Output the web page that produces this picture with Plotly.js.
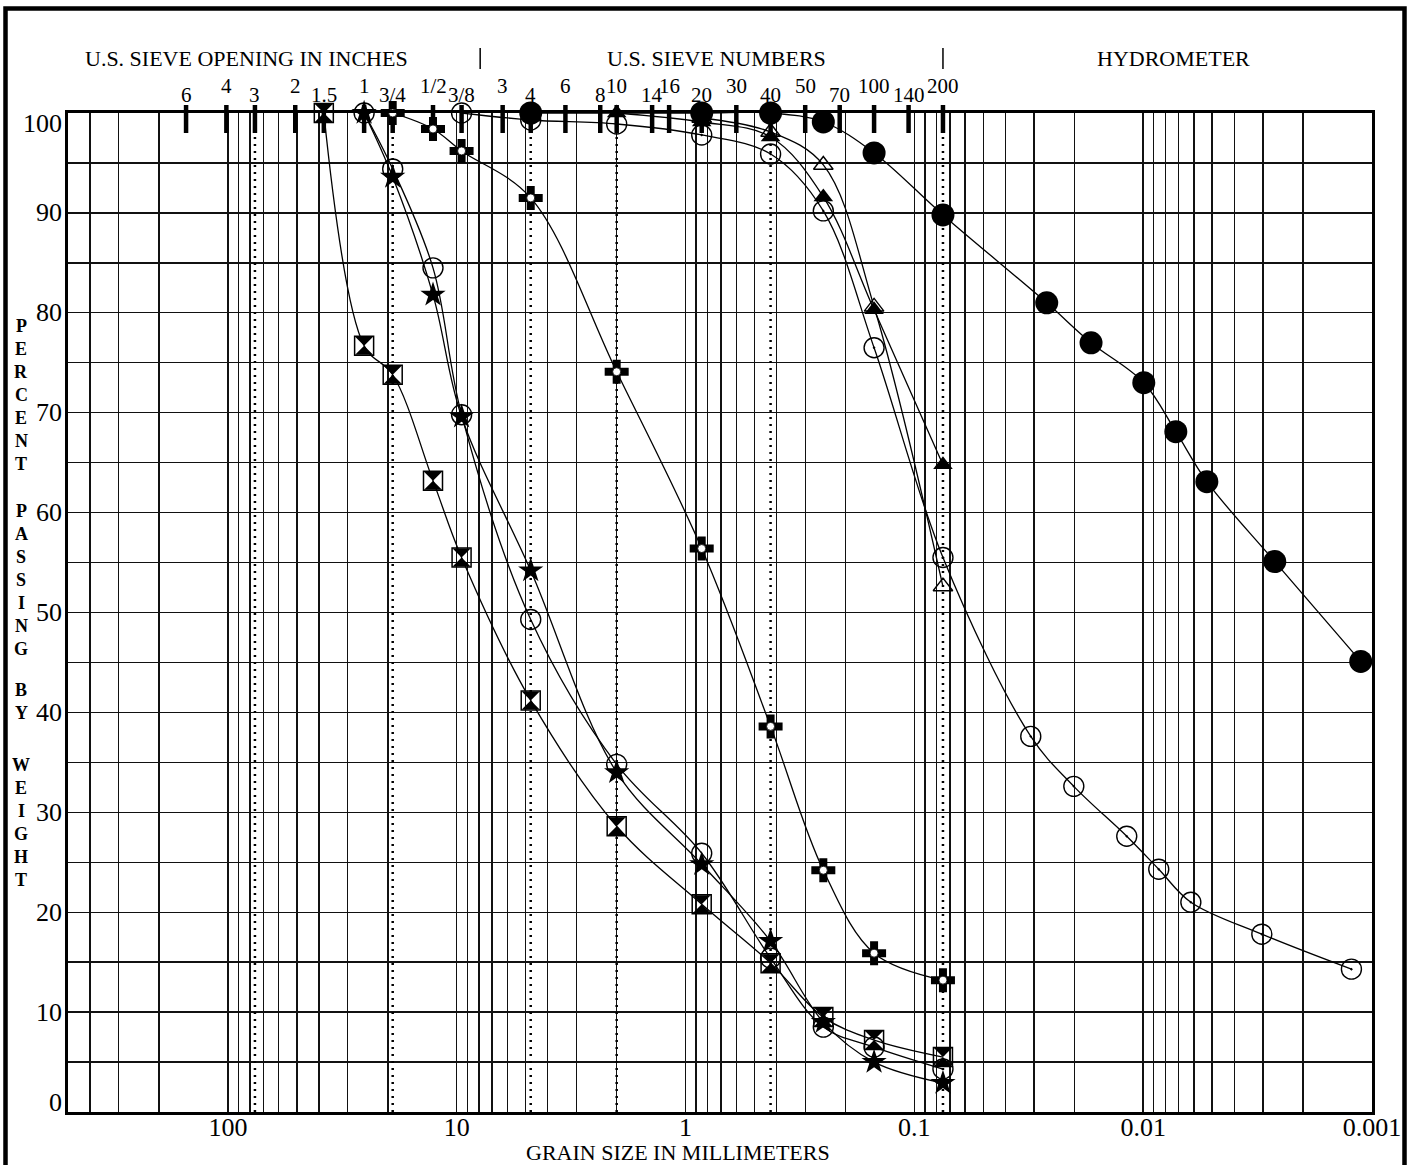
<!DOCTYPE html>
<html><head><meta charset="utf-8">
<script src="https://cdn.plot.ly/plotly-3.0.1.min.js"></script>
<style>body{margin:0;background:#fff}#chart{width:1414px;height:1165px}</style>
</head><body><div id="chart"></div>
<script>
// ---- axis / sieve definitions ----
const sieveInchLabels = ['6','4','3','2','1.5','1','3/4','1/2','3/8'];
const sieveInchMM = [152.4,101.6,76.2,50.8,38.1,25.4,19.05,12.7,9.525];
const sieveNoLabels = ['3','4','6','8','10','14','16','20','30','40','50','70','100','140','200'];
const sieveNoMM = [6.3,4.75,3.35,2.36,2.0,1.4,1.18,0.85,0.6,0.425,0.3,0.212,0.15,0.106,0.075];
const dottedMM = [76.2,19.05,4.75,2.0,0.425,0.075];
const separatorMM = [7.9,0.075];
const xMajorVals = [100,10,1,0.1,0.01,0.001];
const xMajorText = ['100','10','1','0.1','0.01','0.001'];
const yTickVals = [0,10,20,30,40,50,60,70,80,90,100];
const yTitleWords = ['PERCENT','PASSING','BY','WEIGHT'];

// ---- series (grain size mm, percent passing) ----
const hgX = [38.1,25.4,19.05,12.7,9.525,4.75,2.0,0.85,0.425,0.25,0.15,0.075];
const hgY = [100,76.7,73.8,63.2,55.5,41.2,28.6,20.8,14.9,9.5,7.2,5.5];
const ocX = [25.4,19.05,12.7,9.525,4.75,2.0,0.85,0.425,0.25,0.15,0.075];
const ocY = [100,94.4,84.5,69.8,49.3,34.8,25.9,15.4,8.5,6.5,4.3];
const stX = [25.4,19.05,12.7,9.525,4.75,2.0,0.85,0.425,0.25,0.15,0.075];
const stY = [100,93.6,81.8,69.6,54.2,34.0,24.8,17.1,9.0,5.0,2.9];
const crX = [19.05,12.7,9.525,4.75,2.0,0.85,0.425,0.25,0.15,0.075];
const crY = [100,98.4,96.2,91.5,74.1,56.4,38.6,24.2,15.9,13.2];
const ftX = [2.0,0.85,0.425,0.25,0.15,0.075];
const ftY = [100,99.1,97.6,91.6,80.3,64.8];
const otX = [0.85,0.425,0.25,0.15,0.075];
const otY = [99.5,98.1,94.8,80.6,52.6];
const cdX = [9.525,4.75,2.0,0.85,0.425,0.25,0.15,0.075,0.031,0.0201,0.0118,0.00855,0.00619,0.00303,0.00123];
const cdY = [100,99.3,98.9,97.8,95.9,90.2,76.5,55.5,37.6,32.6,27.6,24.3,21.0,17.8,14.3];
const fcX = [4.75,0.85,0.425,0.25,0.15,0.075,0.0264,0.0169,0.00994,0.0072,0.00527,0.00266,0.00112];
const fcY = [100,100,100,99.1,96.0,89.8,81.0,77.0,73.0,68.1,63.1,55.1,45.1];

// ---- layout geometry (pixels) ----
const W = 1414, H = 1165, ML = 68, MR = 42, MT = 113, MB = 53;
const PW = W - ML - MR, PH = H - MT - MB;
const X_MAX = 500, X_MIN = 0.001;
const px2x = p => (p - ML) / PW;
const py2y = p => (H - MB - p) / PH;
const mm2paper = v => (Math.log10(X_MAX) - Math.log10(v)) / (Math.log10(X_MAX) - Math.log10(X_MIN));
const FONT = 'Liberation Serif, Times New Roman, serif';

// grid positions (every digit of every decade)
const gridVals = [];
for (let k = -3; k <= 2; k++) for (let m = 1; m <= 9; m++) {
  const v = m * Math.pow(10, k);
  if (v <= X_MAX) gridVals.push(+v.toPrecision(3));
}
const gridText = gridVals.map(v => {
  const i = xMajorVals.findIndex(m => Math.abs(m - v) / m < 1e-6);
  return i >= 0 ? xMajorText[i] : '';
});

const lineStyle = {color: 'black', width: 1.3, shape: 'spline', smoothing: 1};
const traces = [];

// dotted sieve lines
const dx = [], dy = [];
dottedMM.forEach(v => { dx.push(v, v, null); dy.push(0, 100, null); });
traces.push({x: dx, y: dy, mode: 'lines', line: {color: 'black', width: 2.5, dash: '2px,5px'}, hoverinfo: 'skip'});

// top sieve tick marks (drawn beneath the data markers)
const allSieveMM = sieveInchMM.concat(sieveNoMM);
traces.push({x: allSieveMM, y: allSieveMM.map(() => 99.4), mode: 'markers', cliponaxis: false,
  marker: {symbol: 'line-ns', size: 20, color: 'black', line: {width: 4.5, color: 'black'}}, hoverinfo: 'skip'});

// series
const mk = (o) => Object.assign({cliponaxis: false}, o);
traces.push(mk({x: hgX, y: hgY, mode: 'lines+markers', line: lineStyle, marker: {symbol: 'hourglass', size: 18, color: 'black'}}));
traces.push(mk({x: hgX, y: hgY, mode: 'markers', marker: {symbol: 'square-open', size: 19, color: 'black', line: {width: 1.5}}}));
traces.push(mk({x: ocX, y: ocY, mode: 'lines+markers', line: lineStyle, marker: {symbol: 'circle-open', size: 20, color: 'black', line: {width: 1.4}}}));
traces.push(mk({x: stX, y: stY, mode: 'lines+markers', line: lineStyle, marker: {symbol: 'star', size: 19, color: 'black'}}));
traces.push(mk({x: crX, y: crY, mode: 'lines+markers', line: lineStyle, marker: {symbol: 'cross', size: 20, color: 'black'}}));
traces.push(mk({x: crX, y: crY, mode: 'markers', marker: {symbol: 'circle', size: 8, color: 'white', line: {width: 0.8, color: 'black'}}}));
traces.push(mk({x: otX, y: otY, mode: 'lines+markers', line: lineStyle, marker: {symbol: 'triangle-up-open', size: 17, color: 'black', line: {width: 1.4}}}));
traces.push(mk({x: ftX, y: ftY, mode: 'lines+markers', line: lineStyle, marker: {symbol: 'triangle-up', size: 17, color: 'black'}}));
traces.push(mk({x: cdX, y: cdY, mode: 'lines+markers', line: lineStyle, marker: {symbol: 'circle-open-dot', size: 20, color: 'black', line: {width: 1.4}}}));
traces.push(mk({x: fcX, y: fcY, mode: 'lines+markers', line: lineStyle, marker: {symbol: 'circle', size: 23, color: 'black'}}));

const annotations = [];
const txt = (o) => annotations.push(Object.assign({showarrow: false, xanchor: 'center', yanchor: 'middle'}, o));
// sieve labels, alternating heights
sieveInchLabels.forEach((t, i) => txt({x: Math.log10(sieveInchMM[i]), xref: 'x', y: py2y(i % 2 ? 86 : 95), yref: 'paper', text: t, font: {family: FONT, size: 21, color: 'black'}}));
sieveNoLabels.forEach((t, i) => txt({x: Math.log10(sieveNoMM[i]), xref: 'x', y: py2y(i % 2 ? 95 : 86), yref: 'paper', text: t, font: {family: FONT, size: 21, color: 'black'}}));
// group titles
[['U.S. SIEVE OPENING IN INCHES', 246], ['U.S. SIEVE NUMBERS', 716], ['HYDROMETER', 1173]].forEach(([t, p]) =>
  txt({x: px2x(p), xref: 'paper', y: py2y(58), yref: 'paper', text: t, font: {family: FONT, size: 22, color: 'black'}}));
// x title
txt({x: px2x(678), xref: 'paper', y: py2y(1152), yref: 'paper', text: 'GRAIN SIZE IN MILLIMETERS', font: {family: FONT, size: 22, color: 'black'}});
// y tick labels
yTickVals.forEach(v => txt({x: 0, xref: 'paper', xanchor: 'right', xshift: -4, y: v, yref: 'y',
  yshift: v === 100 ? -10 : (v === 0 ? 10 : 0), text: String(v), font: {family: FONT, size: 26, color: 'black'}}));
// y title stacked letters
const wordStart = [326, 511, 690, 765];
yTitleWords.forEach((w, wi) => w.split('').forEach((ch, ci) =>
  txt({x: px2x(21), xref: 'paper', y: py2y(wordStart[wi] + ci * 23), yref: 'paper', text: '<b>' + ch + '</b>',
    font: {family: FONT, size: 18, color: 'black'}})));

// frame + group separators
const shapes = [{type: 'rect', xref: 'paper', yref: 'paper', x0: px2x(5.5), x1: px2x(1404.5), y0: py2y(1180), y1: py2y(8.5),
  line: {color: 'black', width: 4.5}}];
separatorMM.forEach(v => shapes.push({type: 'line', xref: 'paper', yref: 'paper', x0: mm2paper(v), x1: mm2paper(v),
  y0: py2y(69), y1: py2y(48), line: {color: 'black', width: 1.5}}));

const layout = {
  width: W, height: H, margin: {l: ML, r: MR, t: MT, b: MB},
  paper_bgcolor: 'white', plot_bgcolor: 'white', showlegend: false, hovermode: false,
  xaxis: {type: 'log', range: [Math.log10(X_MAX), Math.log10(X_MIN)], autorange: false,
    tickmode: 'array', tickvals: gridVals, ticktext: gridText, ticks: '', ticklabelstandoff: -10,
    tickfont: {family: FONT, size: 26, color: 'black'},
    showgrid: true, gridcolor: '#111', gridwidth: 1.4, zeroline: false,
    showline: true, linecolor: 'black', linewidth: 3, mirror: true},
  yaxis: {range: [0, 100], autorange: false, tickmode: 'linear', tick0: 0, dtick: 5, showticklabels: false, ticks: '',
    showgrid: true, gridcolor: '#111', gridwidth: 1.4, zeroline: false,
    showline: true, linecolor: 'black', linewidth: 3, mirror: true},
  annotations: annotations,
  shapes: shapes
};
Plotly.newPlot('chart', traces, layout, {staticPlot: true});
</script></body></html>
